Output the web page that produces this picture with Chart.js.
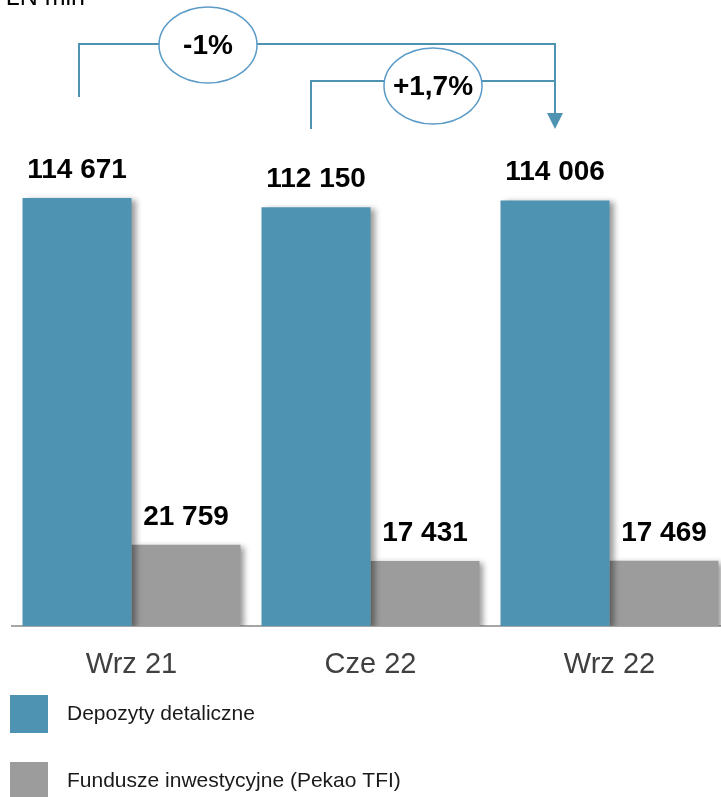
<!DOCTYPE html>
<html>
<head>
<meta charset="utf-8">
<script src="https://cdn.jsdelivr.net/npm/chart.js@4/dist/chart.umd.min.js"></script>
<style>
html, body { margin: 0; padding: 0; background: #fff; overflow: hidden; }
#wrap { width: 730px; height: 797px; }
</style>
</head>
<body>
<div id="wrap"><canvas id="deposits" width="730" height="797"></canvas></div>
<script>
var periods = ['Wrz 21', 'Cze 22', 'Wrz 22'];
var retailDeposits = [114671, 112150, 114006];
var investmentFunds = [21759, 17431, 17469];
var seriesNames = ['Depozyty detaliczne', 'Fundusze inwestycyjne (Pekao TFI)'];
var changeLabels = ['-1%', '+1,7%'];
var unitLabel = 'PLN mln';

var blue = '#4e94b2';
var grey = '#9c9c9c';
var fontFamily = '"Liberation Sans", Arial, sans-serif';

function formatValue(v) {
	return String(v).replace(/\B(?=(\d{3})+(?!\d))/g, ' ');
}

// soft shadow on the right side of the bars
var barShadow = {
	id: 'barShadow',
	beforeDatasetsDraw: function(chart) {
		var ctx = chart.ctx;
		ctx.save();
		ctx.shadowColor = 'rgba(0, 0, 0, 0.4)';
		ctx.shadowBlur = 6;
		ctx.shadowOffsetX = 4;
		ctx.shadowOffsetY = 2;
	},
	afterDatasetsDraw: function(chart) {
		chart.ctx.restore();
	}
};

var valueLabels = {
	id: 'valueLabels',
	afterDraw: function(chart) {
		var ctx = chart.ctx;
		ctx.save();
		ctx.font = 'bold 28px ' + fontFamily;
		ctx.fillStyle = '#000';
		ctx.textAlign = 'center';
		ctx.textBaseline = 'alphabetic';
		chart.data.datasets.forEach(function(ds, i) {
			chart.getDatasetMeta(i).data.forEach(function(bar, j) {
				ctx.fillText(formatValue(ds.data[j]), bar.x, bar.y - 20);
			});
		});
		ctx.restore();
	}
};

function drawBubble(ctx, x, y, text) {
	ctx.beginPath();
	ctx.ellipse(x, y, 49, 38, 0, 0, Math.PI * 2);
	ctx.fillStyle = '#fff';
	ctx.fill();
	ctx.lineWidth = 1.5;
	ctx.strokeStyle = '#5b9bc8';
	ctx.stroke();
	ctx.fillStyle = '#000';
	ctx.font = 'bold 28px ' + fontFamily;
	ctx.textAlign = 'center';
	ctx.textBaseline = 'middle';
	ctx.fillText(text, x, y + 1);
}

var changeArrows = {
	id: 'changeArrows',
	afterDraw: function(chart) {
		var ctx = chart.ctx;
		var bars = chart.getDatasetMeta(0).data;
		var x0 = Math.round(bars[0].x) + 2;
		var x1 = Math.round(bars[1].x) - 5;
		var x2 = Math.round(bars[2].x);
		ctx.save();
		ctx.strokeStyle = blue;
		ctx.lineWidth = 2;
		ctx.beginPath();
		ctx.moveTo(x0, 97);
		ctx.lineTo(x0, 44);
		ctx.lineTo(x2, 44);
		ctx.lineTo(x2, 114);
		ctx.moveTo(x1, 129);
		ctx.lineTo(x1, 81);
		ctx.lineTo(x2, 81);
		ctx.stroke();

		ctx.fillStyle = blue;
		ctx.beginPath();
		ctx.moveTo(x2 - 8, 113);
		ctx.lineTo(x2 + 8, 113);
		ctx.lineTo(x2, 129);
		ctx.closePath();
		ctx.fill();

		drawBubble(ctx, x0 + 129, 45, changeLabels[0]);
		drawBubble(ctx, (x1 + x2) / 2, 86, changeLabels[1]);

		// unit label, cut by the top edge
		ctx.fillStyle = '#000';
		ctx.font = '25px ' + fontFamily;
		ctx.textAlign = 'right';
		ctx.textBaseline = 'alphabetic';
		ctx.fillText(unitLabel, 85, 5);
		ctx.restore();
	}
};

var sideLegend = {
	id: 'sideLegend',
	afterDraw: function(chart) {
		var ctx = chart.ctx;
		var tops = [695, 762];
		ctx.save();
		ctx.font = '21px ' + fontFamily;
		ctx.textAlign = 'left';
		ctx.textBaseline = 'middle';
		chart.data.datasets.forEach(function(ds, i) {
			ctx.fillStyle = ds.backgroundColor;
			ctx.fillRect(10, tops[i], 38, 38);
			ctx.fillStyle = '#1a1a1a';
			ctx.fillText(ds.label, 67, tops[i] + 19);
		});
		ctx.restore();
	}
};

var depositsChart = new Chart(document.getElementById('deposits').getContext('2d'), {
	type: 'bar',
	data: {
		labels: periods,
		datasets: [{
			label: seriesNames[0],
			data: retailDeposits,
			backgroundColor: blue,
			borderWidth: 0
		}, {
			label: seriesNames[1],
			data: investmentFunds,
			backgroundColor: grey,
			borderWidth: 0
		}]
	},
	options: {
		responsive: false,
		animation: false,
		devicePixelRatio: 1,
		categoryPercentage: 0.912,
		barPercentage: 1,
		layout: {
			padding: { top: 66, left: 12, right: 1, bottom: 0 }
		},
		plugins: {
			legend: { display: false },
			tooltip: { enabled: false }
		},
		scales: {
			x: {
				grid: { display: false, drawTicks: false },
				border: { display: true, color: '#a6a6a6', width: 2 },
				ticks: {
					color: '#404040',
					font: { size: 29, family: fontFamily },
					padding: 22
				},
				afterFit: function(scale) {
					scale.height = 171;
				}
			},
			y: {
				display: false,
				min: 0,
				max: 150000
			}
		}
	},
	plugins: [barShadow, valueLabels, changeArrows, sideLegend]
});
</script>
</body>
</html>
